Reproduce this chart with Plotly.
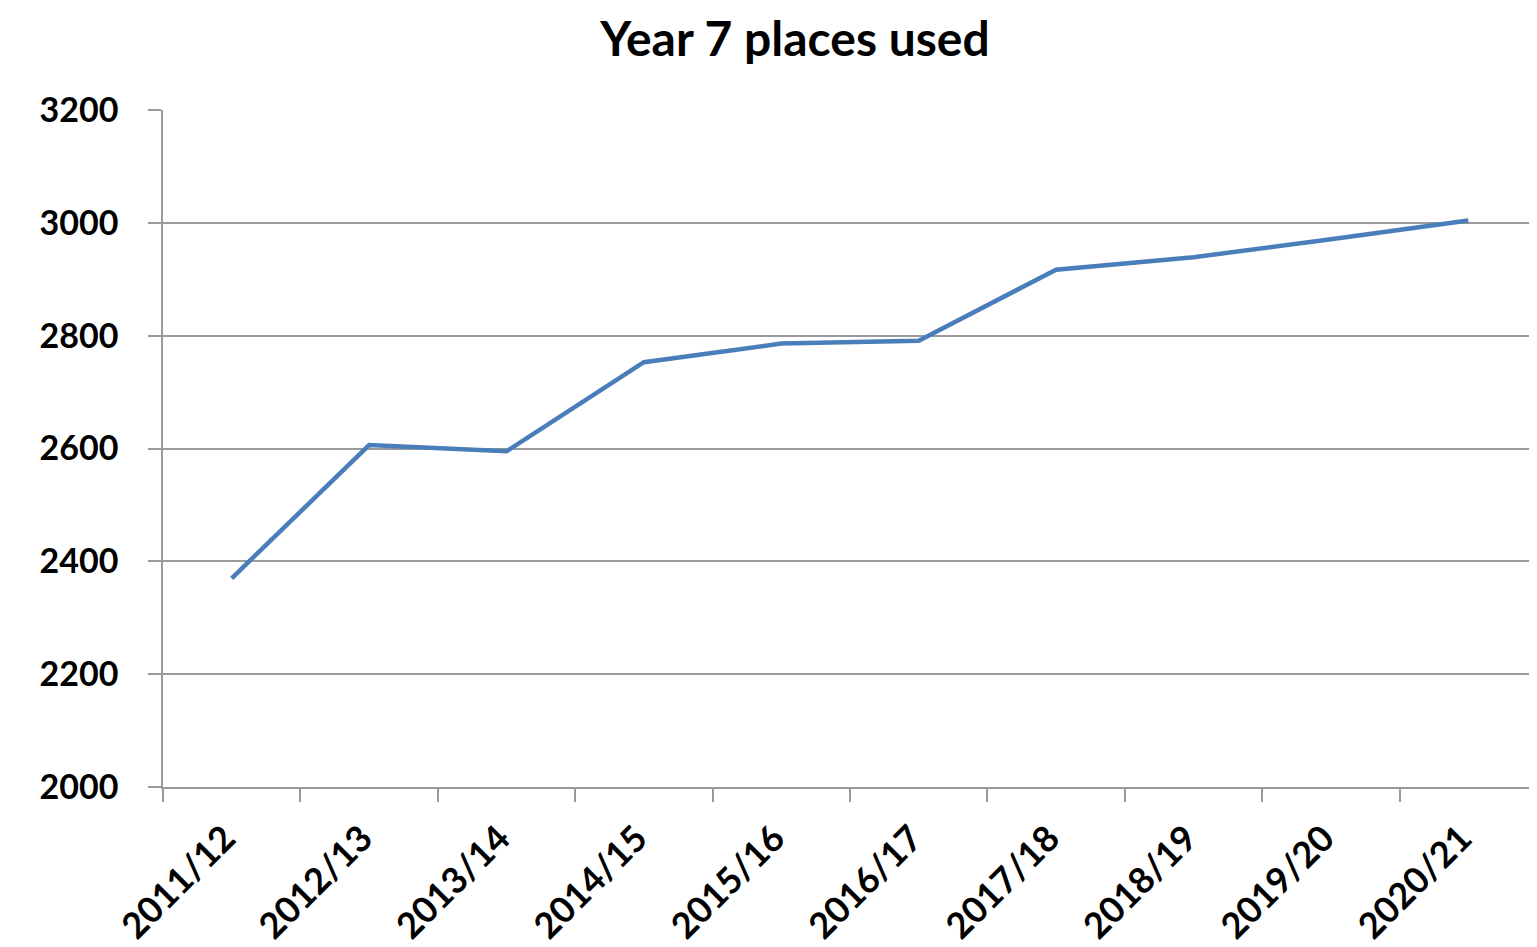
import plotly.graph_objects as go

years = ["2011/12", "2012/13", "2013/14", "2014/15", "2015/16",
         "2016/17", "2017/18", "2018/19", "2019/20", "2020/21"]
places_used = [2370, 2606, 2595, 2753, 2786, 2791, 2917, 2939, 2971, 3004]
y_ticks = [2000, 2200, 2400, 2600, 2800, 3000, 3200]

FONT = "Lato"
GRID = "#9a9a9a"
W, H = 1529, 947

fig = go.Figure()
fig.add_trace(go.Scatter(
    x=years, y=places_used, mode="lines",
    line=dict(color="#4a7ebb", width=4.5),
    showlegend=False, hoverinfo="x+y",
))

fig.update_layout(
    width=W, height=H,
    margin=dict(l=155, r=0, t=102, b=H - 779, autoexpand=False),
    paper_bgcolor="white", plot_bgcolor="white",
    title=dict(text="<b>Year 7 places used</b>", x=787 / W, xanchor="center",
               xref="container", yref="container",
               y=1 - 31 / H, yanchor="middle",
               font=dict(family=FONT, size=48, color="black")),
    font=dict(family=FONT, color="black"),
)

fig.update_xaxes(
    type="category", categoryorder="array", categoryarray=years,
    range=[-0.5, 9.5], automargin=False,
    tickson="boundaries", ticks="outside", ticklen=13, tickwidth=1.5, tickcolor=GRID,
    showline=True, linecolor=GRID, linewidth=1.5,
    showgrid=False, tickangle=-45,
    ticklabelstandoff=14, ticklabelshift=-7,
    tickfont=dict(family=FONT, size=36, color="black", weight="bold"),
)
fig.update_yaxes(
    range=[2000, 3200], tickvals=y_ticks, ticktext=[str(v) for v in y_ticks],
    automargin=False,
    ticks="outside", ticklen=13, tickwidth=1.5, tickcolor=GRID,
    showline=True, linecolor=GRID, linewidth=1.5,
    showgrid=True, gridcolor=GRID, gridwidth=1.5,
    zeroline=False,
    ticklabelstandoff=23,
    tickfont=dict(family=FONT, size=34, color="black", weight="bold"),
)

fig.write_html("out.html")
